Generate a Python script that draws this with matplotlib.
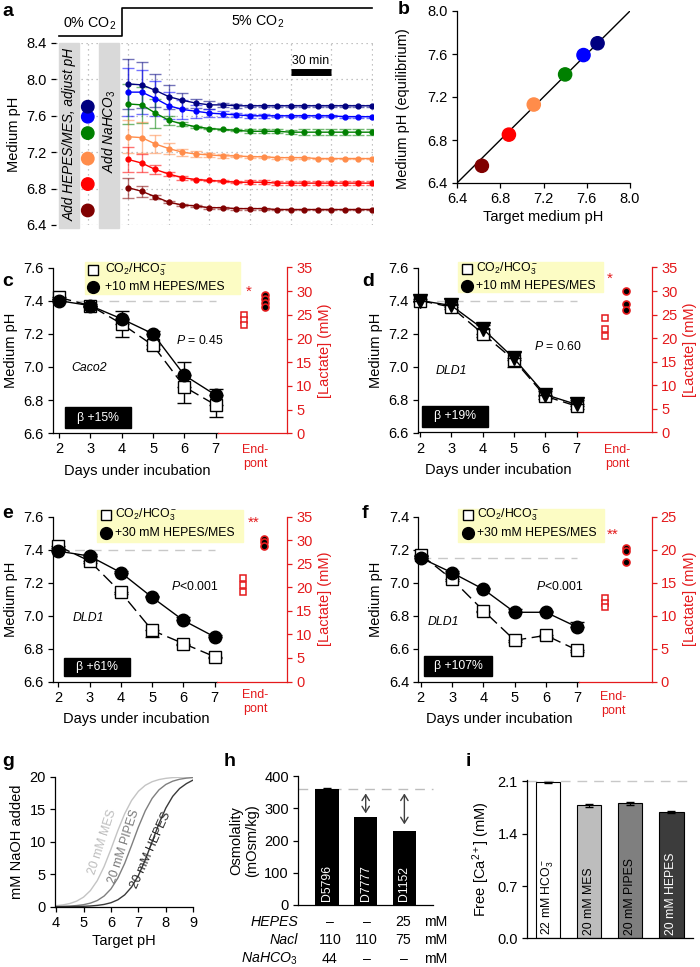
import numpy as np
import matplotlib
matplotlib.use('Agg')
import matplotlib.pyplot as plt
from matplotlib.patches import Rectangle

plt.rcParams['font.family'] = ['Liberation Sans', 'DejaVu Sans']
plt.rcParams['font.size'] = 10.5
plt.rcParams['mathtext.fontset'] = 'custom'
plt.rcParams['mathtext.rm'] = 'Liberation Sans'
plt.rcParams['mathtext.it'] = 'Liberation Sans:italic'
plt.rcParams['axes.linewidth'] = 0.9
plt.rcParams['xtick.major.width'] = 0.9
plt.rcParams['ytick.major.width'] = 0.9
plt.rcParams['xtick.major.size'] = 3.5
plt.rcParams['ytick.major.size'] = 3.5
plt.rcParams['xtick.major.pad'] = 3
plt.rcParams['ytick.major.pad'] = 3

SMALL = 8.8  # legends, P values, cell names, bar labels

# ---- panel a: pH after adding NaHCO3 (10 min steps) ----
time_min = [0, 10, 20, 30, 40, 50, 60, 70, 80, 90, 100, 110, 120, 130, 140, 150, 160, 170, 180]
ph_navy = [7.95, 7.94, 7.88, 7.81, 7.77, 7.74, 7.72, 7.72, 7.71, 7.71, 7.71, 7.71, 7.71, 7.71, 7.71, 7.71, 7.71, 7.71, 7.71]
err_navy = [0.27, 0.25, 0.18, 0.13, 0.08, 0.05, 0.04, 0.02, 0.02, 0.01, 0.01, 0.01, 0.01, 0.01, 0.01, 0.01, 0.01, 0.01, 0.01]
ph_blue = [7.86, 7.86, 7.79, 7.71, 7.67, 7.65, 7.63, 7.62, 7.61, 7.60, 7.60, 7.60, 7.60, 7.60, 7.60, 7.60, 7.59, 7.59, 7.59]
err_blue = [0.26, 0.24, 0.19, 0.15, 0.10, 0.07, 0.04, 0.03, 0.02, 0.02, 0.02, 0.01, 0.01, 0.01, 0.01, 0.01, 0.01, 0.01, 0.01]
ph_green = [7.73, 7.72, 7.63, 7.55, 7.51, 7.48, 7.46, 7.45, 7.44, 7.43, 7.43, 7.43, 7.42, 7.42, 7.42, 7.42, 7.42, 7.42, 7.42]
err_green = [0.22, 0.20, 0.16, 0.05, 0.02, 0.01, 0.01, 0.01, 0.01, 0.02, 0.02, 0.02, 0.02, 0.03, 0.03, 0.03, 0.03, 0.03, 0.03]
ph_orange = [7.37, 7.36, 7.29, 7.24, 7.20, 7.18, 7.17, 7.16, 7.16, 7.15, 7.15, 7.14, 7.14, 7.14, 7.13, 7.13, 7.13, 7.13, 7.13]
err_orange = [0.18, 0.17, 0.10, 0.06, 0.04, 0.03, 0.02, 0.02, 0.01, 0.01, 0.01, 0.01, 0.01, 0.01, 0.01, 0.01, 0.01, 0.01, 0.01]
ph_red = [7.12, 7.08, 7.01, 6.96, 6.92, 6.90, 6.89, 6.88, 6.87, 6.87, 6.87, 6.86, 6.86, 6.86, 6.86, 6.86, 6.86, 6.86, 6.86]
err_red = [0.14, 0.10, 0.05, 0.02, 0.02, 0.01, 0.01, 0.01, 0.01, 0.02, 0.02, 0.02, 0.02, 0.02, 0.02, 0.02, 0.02, 0.02, 0.02]
ph_maroon = [6.81, 6.77, 6.71, 6.65, 6.62, 6.61, 6.59, 6.59, 6.58, 6.58, 6.58, 6.57, 6.57, 6.57, 6.57, 6.57, 6.57, 6.57, 6.57]
err_maroon = [0.11, 0.06, 0.02, 0.01, 0.01, 0.01, 0.01, 0.01, 0.01, 0.01, 0.01, 0.01, 0.01, 0.01, 0.01, 0.01, 0.01, 0.01, 0.01]
series_colors = ['#000080', '#0000ff', '#008000', '#ff8c4a', '#ff0000', '#800000']

# ---- panel b: target vs equilibrium pH (maroon -> navy) ----
target_ph = [6.63, 6.88, 7.11, 7.40, 7.57, 7.70]
eq_ph = [6.56, 6.85, 7.13, 7.41, 7.59, 7.70]
dot_colors = ['#800000', '#ff0000', '#ff8c4a', '#008000', '#0000ff', '#000080']

# ---- panels c-f: pH over days + end-point lactate ----
days = [2, 3, 4, 5, 6, 7]
c_sq = [7.42, 7.37, 7.26, 7.13, 6.88, 6.77]
c_sq_err = [0.01, 0.01, 0.08, 0.02, 0.10, 0.07]
c_ci = [7.40, 7.37, 7.29, 7.20, 6.95, 6.83]
c_ci_err = [0.01, 0.01, 0.05, 0.02, 0.08, 0.04]
c_lac_sq = [25.0, 23.9, 22.8]
c_lac_ci = [29.3, 28.4, 27.5, 26.6]

d_sq = [7.40, 7.36, 7.20, 7.04, 6.82, 6.76]
d_sq_err = [0.01, 0.01, 0.02, 0.04, 0.02, 0.02]
d_ci = [7.40, 7.37, 7.23, 7.05, 6.83, 6.77]
d_ci_err = [0.01, 0.01, 0.02, 0.04, 0.02, 0.03]
d_lac_sq = [24.3, 22.0, 20.4]
d_lac_ci = [30.1, 27.3, 25.9]

e_sq = [7.42, 7.33, 7.14, 6.91, 6.83, 6.75]
e_sq_err = [0.01, 0.01, 0.01, 0.04, 0.01, 0.01]
e_ci = [7.39, 7.36, 7.26, 7.11, 6.97, 6.87]
e_ci_err = [0.01, 0.01, 0.01, 0.01, 0.02, 0.01]
e_lac_sq = [21.9, 20.5, 19.0]
e_lac_ci = [30.2, 29.5, 28.7]

f_sq = [7.17, 7.02, 6.83, 6.65, 6.68, 6.59]
f_sq_err = [0.01, 0.01, 0.01, 0.01, 0.01, 0.01]
f_ci = [7.15, 7.06, 6.96, 6.82, 6.82, 6.73]
f_ci_err = [0.01, 0.01, 0.01, 0.02, 0.01, 0.03]
f_lac_sq = [12.6, 11.9, 11.3]
f_lac_ci = [20.3, 19.8, 18.2]

# ---- panel g: NaOH titration curves (read every 0.25 pH) ----
titr_ph = [4.0, 4.25, 4.5, 4.75, 5.0, 5.25, 5.5, 5.75, 6.0, 6.25, 6.5, 6.75, 7.0, 7.25, 7.5, 7.75, 8.0, 8.25, 8.5, 8.75, 9.0]
naoh_mes = [0.16, 0.28, 0.49, 0.86, 1.47, 2.48, 4.01, 6.18, 8.85, 11.71, 14.31, 16.34, 17.76, 18.68, 19.23, 19.56, 19.75, 19.86, 19.92, 19.96, 19.97]
naoh_pipes = [0.03, 0.06, 0.10, 0.18, 0.31, 0.55, 0.95, 1.64, 2.74, 4.40, 6.67, 9.42, 12.26, 14.76, 16.67, 17.98, 18.81, 19.31, 19.61, 19.78, 19.87]
naoh_hepes = [0.01, 0.01, 0.02, 0.04, 0.06, 0.11, 0.20, 0.35, 0.61, 1.06, 1.82, 3.02, 4.81, 7.20, 10.0, 12.80, 15.19, 16.98, 18.18, 18.94, 19.50]

# ---- panel h: osmolality of media ----
media = ['D5796', 'D7777', 'D1152']
osmolality = [359, 274, 229]
osm_ref = 359
hepes_mM = ['–', '–', '25']
nacl_mM = ['110', '110', '75']
nahco3_mM = ['44', '–', '–']

# ---- panel i: free calcium ----
buffers = ['22 mM HCO$_3^-$', '20 mM MES', '20 mM PIPES', '20 mM HEPES']
free_ca = [2.09, 1.78, 1.81, 1.69]
free_ca_err = [0.005, 0.02, 0.02, 0.015]
ca_ref = 2.1

RED = '#e41a1c'
W, H = 700, 967
fig = plt.figure(figsize=(W / 100, H / 100), dpi=100)


def box(x0, y0, x1, y1):
    return [x0 / W, 1 - y1 / H, (x1 - x0) / W, (y1 - y0) / H]


# ================= panel a =================
ax = fig.add_axes(box(56, 43, 373, 225))
ax.set_xlim(-53.5, 181)
ax.set_ylim(6.4, 8.4)
ax.set_yticks([6.4, 6.8, 7.2, 7.6, 8.0, 8.4])
ax.set_yticklabels(['6.4', '6.8', '7.2', '7.6', '8.0', '8.4'])
ax.set_xticks([-30, 0, 30, 60, 90, 120, 150, 180])
ax.tick_params(axis='x', length=0, labelbottom=False)
ax.grid(True, ls=(0, (1, 3)), color='#b0b0b0', lw=0.9)
for s in ax.spines.values():
    s.set_visible(False)
ax.set_ylabel('Medium pH', labelpad=4)
ax.add_patch(Rectangle((-51, 6.37), 14.5, 2.03, color='#d9d9d9', zorder=2, clip_on=False))
ax.add_patch(Rectangle((-21.7, 6.37), 14.8, 2.03, color='#d9d9d9', zorder=2, clip_on=False))
ax.text(-43.7, 7.4, 'Add HEPES/MES, adjust pH', rotation=90, style='italic', ha='center', va='center',
        zorder=3, fontsize=9.8)
ax.text(-14.3, 7.43, 'Add NaHCO$_3$', rotation=90, style='italic', ha='center', va='center',
        zorder=3, fontsize=9.8)
a_series = [(ph_navy, err_navy), (ph_blue, err_blue), (ph_green, err_green),
            (ph_orange, err_orange), (ph_red, err_red), (ph_maroon, err_maroon)]
for (vals, errs), col in zip(a_series, series_colors):
    ax.errorbar(time_min, vals, yerr=errs, fmt='none', ecolor=col, alpha=0.55, capsize=4, lw=1, zorder=3)
    ax.plot(time_min, vals, '-o', color=col, ms=3.5, lw=1, zorder=4)
ax.scatter([-30] * len(eq_ph), eq_ph, s=80, c=dot_colors, zorder=4)
ax.plot([120, 150], [8.08, 8.08], color='k', lw=5, solid_capstyle='butt')
ax.text(135, 8.14, '30 min', ha='center', va='bottom', fontsize=SMALL)

# ================= panel b =================
ax = fig.add_axes(box(457, 11, 630, 183))
ax.set_xlim(6.4, 8.0)
ax.set_ylim(6.4, 8.0)
ticks = [6.4, 6.8, 7.2, 7.6, 8.0]
ax.set_xticks(ticks)
ax.set_yticks(ticks)
ax.set_xticklabels(['6.4', '6.8', '7.2', '7.6', '8.0'])
ax.set_yticklabels(['6.4', '6.8', '7.2', '7.6', '8.0'])
ax.spines['top'].set_visible(False)
ax.spines['right'].set_visible(False)
ax.plot([6.4, 8.0], [6.4, 8.0], color='k', lw=1, zorder=2)
ax.scatter(target_ph, eq_ph, s=90, c=dot_colors, zorder=3, clip_on=False)
ax.set_xlabel('Target medium pH', labelpad=3)
ax.set_ylabel('Medium pH (equilibrium)')
ax.yaxis.set_label_coords(-0.27, 0.43)


# ================= panels c-f =================
END_SQ_X = 7.9
END_CI_X = 8.57


def day_panel(rect, xlim, ylim, ref_ph, sq, sq_err, ci, ci_err, lac_sq, lac_ci, lac_top, ci_marker):
    ax = fig.add_axes(box(*rect))
    zeros = [0] * len(days)
    ax.plot([2, 7], [ref_ph, ref_ph], color='#c8c8c8', lw=1, ls=(0, (7, 5)), zorder=1)
    ax.errorbar(days, sq, yerr=[sq_err, zeros], fmt='s', ls=(0, (9, 4)), color='k', mfc='white',
                mec='k', ms=8, mew=1, capsize=5, lw=1, zorder=3, clip_on=False)
    ms = 9 if ci_marker == 'o' else 10
    ax.errorbar(days, ci, yerr=[zeros, ci_err], fmt=ci_marker + '-', color='k', ms=ms,
                capsize=5, lw=1, zorder=4, clip_on=False)
    ax.set_xlim(*xlim)
    ax.set_ylim(*ylim)
    yt = np.round(np.arange(ylim[0], ylim[1] + 0.01, 0.2), 1)
    ax.set_yticks(yt)
    ax.set_yticklabels(['%.1f' % v for v in yt])
    ax.set_xticks(days)
    ax.spines['top'].set_visible(False)
    ax.spines['right'].set_visible(False)
    ax.spines['bottom'].set_bounds(xlim[0], 7.06)
    ax.set_ylabel('Medium pH', labelpad=4)
    ax.text(4.5, -0.225, 'Days under incubation', transform=ax.get_xaxis_transform(),
            ha='center', va='center')

    ax2 = ax.twinx()
    ax2.set_ylim(0, lac_top)
    ax2.set_yticks(np.arange(0, lac_top + 1, 5))
    ax2.spines['top'].set_visible(False)
    ax2.spines['left'].set_visible(False)
    ax2.spines['right'].set_color(RED)
    ax2.spines['bottom'].set_color(RED)
    ax2.spines['bottom'].set_bounds(7.06, xlim[1])
    ax2.tick_params(axis='y', colors=RED, labelcolor=RED)
    ax2.plot([END_SQ_X] * len(lac_sq), lac_sq, 's', mfc='white', mec=RED, ms=4.5, mew=1.1)
    ax2.plot([END_CI_X] * len(lac_ci), lac_ci, 'o', mfc='k', mec=RED, ms=5, mew=1.2)
    ax2.set_ylabel('[Lactate] (mM)', color=RED, labelpad=4)
    return ax


day_panel((53, 267.5, 287, 433.3), (1.81, 9.27), (6.6, 7.6), 7.4, c_sq, c_sq_err, c_ci, c_ci_err,
          c_lac_sq, c_lac_ci, 35, 'o')
day_panel((418, 267.5, 652, 432.5), (1.94, 9.41), (6.6, 7.6), 7.4, d_sq, d_sq_err, d_ci, d_ci_err,
          d_lac_sq, d_lac_ci, 35, 'v')
day_panel((52.7, 516.5, 287, 681.5), (1.82, 9.31), (6.6, 7.6), 7.4, e_sq, e_sq_err, e_ci, e_ci_err,
          e_lac_sq, e_lac_ci, 35, 'o')
day_panel((418.3, 516.7, 651.7, 681.5), (1.92, 9.38), (6.4, 7.4), 7.15, f_sq, f_sq_err, f_ci, f_ci_err,
          f_lac_sq, f_lac_ci, 25, 'o')

# ================= panel g =================
ax = fig.add_axes(box(55, 776.7, 193.3, 906.7))
ax.plot(titr_ph, naoh_mes, color='#c4c4c4', lw=1)
ax.plot(titr_ph, naoh_pipes, color='#7f7f7f', lw=1)
ax.plot(titr_ph, naoh_hepes, color='#3a3a3a', lw=1)
ax.set_xlim(3.96, 9.0)
ax.set_ylim(0, 20)
ax.set_xticks([4, 5, 6, 7, 8, 9])
ax.set_yticks([0, 5, 10, 15, 20])
ax.spines['top'].set_visible(False)
ax.spines['right'].set_visible(False)
ax.set_xlabel('Target pH', labelpad=3)
ax.set_ylabel('mM NaOH added', labelpad=4)
ax.text(5.7, 10.0, '20 mM MES', rotation=72, color='#bdbdbd', ha='center', va='center', fontsize=SMALL)
ax.text(6.48, 9.2, '20 mM PIPES', rotation=72, color='#7a7a7a', ha='center', va='center', fontsize=SMALL)
ax.text(7.45, 8.7, '20 mM HEPES', rotation=66, color='#2a2a2a', ha='center', va='center', fontsize=SMALL)

# ================= panel h =================
ax = fig.add_axes(box(298, 776, 433, 905))
xh = np.arange(len(media))
ax.bar(xh, osmolality, width=0.61, color='k', zorder=2)
ax.errorbar(xh[:1], osmolality[:1], yerr=[[0], [3]], fmt='none', ecolor='k', capsize=3, lw=0.8)
ax.plot([-0.75, 2.74], [osm_ref, osm_ref], color='#bdbdbd', lw=1, ls=(0, (7, 5)), zorder=1, clip_on=False)
ax.set_xlim(-0.75, 2.74)
ax.set_ylim(0, 400)
ax.set_yticks([0, 100, 200, 300, 400])
ax.set_xticks([])
ax.spines['top'].set_visible(False)
ax.spines['right'].set_visible(False)
ax.set_ylabel('Osmolality\n(mOsm/kg)', labelpad=4, linespacing=1.1)
for xi, name in zip(xh, media):
    ax.text(xi, 12, name, rotation=90, color='white', ha='center', va='bottom', fontsize=SMALL)
for xi, lo, hi in [(1, 284, 346), (2, 250, 346)]:
    ax.annotate('', xy=(xi, hi), xytext=(xi, lo),
                arrowprops=dict(arrowstyle='<->,head_length=0.35,head_width=0.22', color='#404040',
                                lw=1, shrinkA=0, shrinkB=0, mutation_scale=12))

# ================= panel i =================
ax = fig.add_axes(box(526.7, 780, 693, 938.3))
xi_ = np.arange(len(buffers))
ax.bar(xi_, free_ca, width=0.6, color=['white', '#bdbdbd', '#7f7f7f', '#3c3c3c'],
       edgecolor='k', lw=0.8, yerr=free_ca_err, error_kw=dict(capsize=3, lw=0.8), zorder=2)
ax.plot([-0.52, 3.4], [ca_ref, ca_ref], color='#c8c8c8', lw=1, ls=(0, (7, 5)), zorder=1)
ax.set_xlim(-0.52, 3.53)
ax.set_ylim(0, 2.12)
ax.set_yticks([0.0, 0.7, 1.4, 2.1])
ax.set_yticklabels(['0.0', '0.7', '1.4', '2.1'])
ax.set_xticks([])
ax.spines['top'].set_visible(False)
ax.spines['right'].set_visible(False)
ax.set_ylabel('Free [Ca$^{2+}$] (mM)', labelpad=4)
for xb, name, tc in zip(xi_, buffers, ['k', 'k', 'k', 'white']):
    ax.text(xb, 0.05, name, rotation=90, color=tc, ha='center', va='bottom', fontsize=SMALL)

# ================= overlay: labels, legends, annotations =================
ov = fig.add_axes([0, 0, 1, 1], zorder=10)
ov.set_xlim(0, W)
ov.set_ylim(H, 0)
ov.axis('off')
ov.patch.set_visible(False)

for lab, x, y in [('a', 2, 12), ('b', 398, 10), ('c', 2, 281), ('d', 362, 281), ('e', 2, 514),
                  ('f', 362, 514), ('g', 2, 762), ('h', 224, 762), ('i', 466, 762)]:
    ov.text(x, y, lab, fontsize=14, fontweight='bold', ha='left', va='center')

# CO2 indicator above panel a
ov.plot([59, 122, 122, 372], [36, 36, 8, 8], color='k', lw=1.2)
ov.text(90, 24, '0% CO$_2$', ha='center', va='center', fontsize=10.3)
ov.text(258, 22, '5% CO$_2$', ha='center', va='center', fontsize=10.3)

legend_spec = [
    # box x0, x1, y0, y1, marker x, text x, row1 y, row2 y, text
    (85, 240, 262, 294, 93, 105, 270, 287, '+10 mM HEPES/MES'),
    (458, 603, 262, 292, 467, 476, 269, 286, '+10 mM HEPES/MES'),
    (97, 243, 510, 542, 106, 115, 515, 533, '+30 mM HEPES/MES'),
    (458, 604, 509, 542, 468, 477, 515, 533, '+30 mM HEPES/MES'),
]
for x0, x1, y0, y1, mx, tx, r1, r2, txt in legend_spec:
    ov.add_patch(Rectangle((x0, y0), x1 - x0, y1 - y0, color='#fcfcc4', zorder=1))
    ov.plot(mx, r1, 's', mfc='white', mec='k', ms=7.5, mew=1, zorder=2)
    ov.plot(mx, r2, 'o', color='k', ms=8.5, zorder=2)
    ov.text(tx, r1, 'CO$_2$/HCO$_3^-$', ha='left', va='center', zorder=3, fontsize=SMALL)
    ov.text(tx, r2, txt, ha='left', va='center', zorder=3, fontsize=SMALL)

panel_notes = [
    # P text pos, P text, cell text pos, cell, beta box, beta text, star pos, stars, end-point pos
    ((199.5, 341), '$P$ = 0.45', (89, 368), 'Caco2', (65, 407, 131, 428), 'β +15%', (249, 292), '*', (255, 457)),
    ((558, 346), '$P$ = 0.60', (451, 371), 'DLD1', (422, 406, 488, 427), 'β +19%', (610, 279), '*', (617, 457)),
    ((194.5, 586), '$P$<0.001', (88, 618), 'DLD1', (64, 658, 130, 676), 'β +61%', (254, 523), '**', (255, 702)),
    ((559.7, 586), '$P$<0.001', (443, 622), 'DLD1', (424, 656, 492, 676), 'β +107%', (613, 535), '**', (613, 704)),
]
for ppos, ptxt, cpos, ctxt, bb, btxt, spos, stxt, epos in panel_notes:
    ov.text(*ppos, ptxt, ha='center', va='center', fontsize=SMALL)
    ov.text(*cpos, ctxt, style='italic', ha='center', va='center', fontsize=SMALL)
    ov.add_patch(Rectangle((bb[0], bb[1]), bb[2] - bb[0], bb[3] - bb[1], color='k'))
    ov.text((bb[0] + bb[2]) / 2, (bb[1] + bb[3]) / 2, btxt, color='white', ha='center', va='center',
            fontsize=SMALL)
    ov.text(*spos, stxt, color=RED, ha='center', va='center', fontsize=11)
    ov.text(*epos, 'End-\npont', color=RED, ha='center', va='center', linespacing=1.15, fontsize=9)

# table under panel h
rows_y = [922, 940.5, 959]
row_names = ['HEPES', 'Nacl', 'NaHCO$_3$']
for y, name, vals in zip(rows_y, row_names, [hepes_mM, nacl_mM, nahco3_mM]):
    ov.text(298, y, name, style='italic', ha='right', va='center', fontsize=10.2)
    for x, v in zip([330, 366.5, 403.5], vals):
        ov.text(x, y, v, ha='center', va='center', fontsize=10.2)
    ov.text(436, y, 'mM', ha='center', va='center', fontsize=10.2)

fig.savefig('out.png', dpi=100)
